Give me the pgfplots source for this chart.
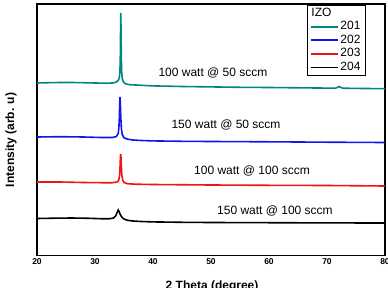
\documentclass[border=0pt]{standalone}
\usepackage{pgfplots}
\pgfplotsset{compat=1.18}
\usepackage{fontspec}
\setmainfont{Liberation Sans}

\definecolor{cTeal}{RGB}{0,133,128}
\definecolor{cBlue}{RGB}{20,20,235}
\definecolor{cRed}{RGB}{240,20,20}

\begin{document}
\begin{tikzpicture}
\useasboundingbox (0pt,0pt) rectangle (388pt,287pt);
\begin{axis}[
  at={(37pt,31.5pt)}, anchor=south west,
  width=348pt, height=251.5pt, scale only axis,
  xmin=20, xmax=80, ymin=0, ymax=251.5,
  xtick={20,30,40,50,60,70,80},
  ytick=\empty,
  major tick length=0pt,
  axis line style={line width=1.5pt},
  /pgf/number format/assume math mode=true,
  ticklabel style={font=\fontsize{8.5}{10}\selectfont\bfseries},
  xlabel={2 Theta (degree)},
  ylabel={Intensity (arb. u)},
  label style={font=\fontsize{12}{14}\selectfont\bfseries},
  xlabel style={at={(axis description cs:0.503,-0.137)}, anchor=base},
  ylabel style={at={(axis description cs:-0.0747,0.459)}, anchor=center},
  legend cell align=left,
  legend style={at={(rel axis cs:0.776,0.996)}, anchor=north west,
    draw=black, line width=0.7pt, font=\fontsize{12}{14}\selectfont,
    row sep=0pt, column sep=1pt, inner xsep=2.5pt, inner ysep=1pt,
    nodes={inner sep=0.8pt, text height=9pt, text depth=3pt}},
  legend image code/.code={\draw[#1, line width=1.8pt] (0pt,0pt) -- (27pt,0pt);},
]
\addlegendimage{empty legend}
\addlegendentry{\makebox[1.8em][l]{\hspace*{-29pt}IZO}}

% sample 201: 100 W, 50 sccm
\addplot[cTeal, line width=1.6pt] coordinates {
(20,172.5) (22,172.8) (24,173) (26,173) (28,172.8) (30,172.5) (32,172.3)
(33,172.5) (33.6,173.2) (34.0,175) (34.2,178) (34.3,184) (34.36,198)
(34.41,225) (34.45,242.5) (34.49,225) (34.54,198) (34.6,184) (34.7,177)
(34.9,173.5) (35.3,171.5) (36,170.8) (38,170.2) (40,169.6) (45,169)
(50,168.6) (55,168.2) (60,168) (65,167.7) (70,167.4) (71.5,167.4)
(72.1,168.9) (72.7,167.3) (75,167.1) (80,166.8)};
\addlegendentry{201}

% sample 202: 150 W, 50 sccm
\addplot[cBlue, line width=1.6pt] coordinates {
(20,118.5) (24,118.8) (28,118.5) (31,118) (33,118) (33.7,119) (34.0,122)
(34.12,128) (34.2,138) (34.26,152) (34.31,158.5) (34.37,152) (34.45,138)
(34.55,127) (34.7,121) (34.95,118) (35.5,116.5) (36.5,115.5) (38,115)
(40,114.6) (45,114.2) (50,114) (60,113.7) (70,113.3) (80,113)};
\addlegendentry{202}

% sample 203: 100 W, 100 sccm
\addplot[cRed, line width=1.6pt] coordinates {
(20,73.5) (24,73.5) (28,73) (31,72.8) (33,72.8) (33.8,73.5) (34.1,75.5)
(34.23,80) (34.32,89) (34.38,98) (34.43,101.5) (34.48,98) (34.54,89)
(34.63,80) (34.78,75.5) (35,73) (35.6,71.8) (37,71.3) (40,71) (50,70.5)
(60,70.2) (70,70) (80,69.5)};
\addlegendentry{203}

% sample 204: 150 W, 100 sccm
\addplot[black, line width=1.6pt] coordinates {
(20,37) (23,37.3) (26,37.5) (29,37.2) (31,36.8) (32.5,36.8) (33.2,37.5)
(33.6,40) (33.85,43.5) (34.0,45.5) (34.15,44) (34.35,41) (34.6,38.5)
(35,36.5) (35.6,35.2) (36.5,34.5) (38,34) (40,33.6) (45,33.2) (50,33)
(60,32.8) (70,32.6) (80,32.5)};
\addlegendentry{204}

\node[font=\fontsize{12}{14}\selectfont] at (axis cs:50.34,182.5) {100 watt @ 50 sccm};
\node[font=\fontsize{12}{14}\selectfont] at (axis cs:52.59,130.5) {150 watt @ 50 sccm};
\node[font=\fontsize{12}{14}\selectfont] at (axis cs:57.07,84.5) {100 watt @ 100 sccm};
\node[font=\fontsize{12}{14}\selectfont] at (axis cs:61.03,44.5) {150 watt @ 100 sccm};
\end{axis}
\end{tikzpicture}
\end{document}
